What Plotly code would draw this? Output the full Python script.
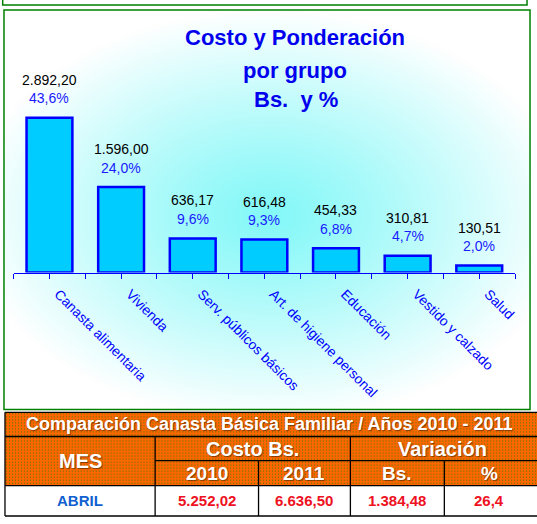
import base64
import struct
import zlib

import numpy as np
import plotly.graph_objects as go

# ---------------- data ----------------
categories = [
    "Canasta alimentaria",
    "Vivienda",
    "Serv. públicos básicos",
    "Art. de higiene personal",
    "Educación",
    "Vestido y calzado",
    "Salud",
]
costs = [2892.20, 1596.00, 636.17, 616.48, 454.33, 310.81, 130.51]
weights = [43.6, 24.0, 9.6, 9.3, 6.8, 4.7, 2.0]

title_lines = ["Costo y Ponderación", "por grupo", "Bs.\u00a0 y %"]

table_title = "Comparación Canasta Básica Familiar / Años 2010 - 2011"
table_month_header = "MES"
table_group_headers = ["Costo Bs.", "Variación"]
table_sub_headers = ["2010", "2011", "Bs.", "%"]
table_month = "ABRIL"
cost_2010 = 5252.02
cost_2011 = 6636.50
variation_bs = 1384.48
variation_pct = 26.4

# ---------------- helpers ----------------
W, H = 537, 524
FONT = "Arial, Liberation Sans, sans-serif"


def fx(x):
    return x / W


def fy(y):
    return 1 - y / H


def es_num(v, dec=2):
    s = f"{v:,.{dec}f}"
    return s.replace(",", "#").replace(".", ",").replace("#", ".")


def png_uri(arr):
    h, w, _ = arr.shape
    raw = b"".join(b"\x00" + arr[i].tobytes() for i in range(h))

    def chunk(t, d):
        c = struct.pack(">I", len(d)) + t + d
        return c + struct.pack(">I", zlib.crc32(t + d) & 0xFFFFFFFF)

    png = (
        b"\x89PNG\r\n\x1a\n"
        + chunk(b"IHDR", struct.pack(">IIBBBBB", w, h, 8, 2, 0, 0, 0))
        + chunk(b"IDAT", zlib.compress(raw, 9))
        + chunk(b"IEND", b"")
    )
    return "data:image/png;base64," + base64.b64encode(png).decode()


# chart box and radial gradient background
bx0, bx1, by0, by1 = 4, 532, 10, 409.5
gw, gh = int(bx1 - bx0), int(by1 - by0)
xs = bx0 + np.arange(gw) + 0.5
ys = by0 + np.arange(gh) + 0.5
X, Y = np.meshgrid(xs, ys)
t = np.sqrt(((X - 270) / 300.0) ** 2 + ((Y - 215) / 205.0) ** 2)
f = np.clip(t, 0, 1) ** 1.15
center = np.array([132, 248, 248], dtype=float)
edge = np.array([255, 255, 255], dtype=float)
grad = center[None, None, :] + (edge - center)[None, None, :] * f[:, :, None]
grad_img = png_uri(np.clip(grad, 0, 255).astype(np.uint8))

# table geometry (pixels); table runs past the right edge of the page
tc = [5, 155.7, 259.5, 351.7, 446, 540]
tr = [412.3, 436.5, 460.7, 485.7, 516]
text_right = 536

# dotted orange pattern for table header
tw, th = int(round(tc[-1] - tc[0])), int(round(tr[3] - tr[0]))
pat = np.zeros((th, tw, 3), dtype=np.uint8)
pat[:, :] = (255, 102, 0)
pat[1::3, 1::3] = (64, 128, 0)
pat_img = png_uri(pat)

# ---------------- figure ----------------
fig = go.Figure()

fig.add_trace(
    go.Bar(
        x=list(range(len(categories))),
        y=costs,
        width=0.64,
        marker=dict(color="#00CCFF", line=dict(color="#0000FF", width=2.5)),
        hoverinfo="skip",
        showlegend=False,
    )
)

annotations = []
for i, (c, w) in enumerate(zip(costs, weights)):
    annotations.append(
        dict(
            x=i, y=c, xref="x", yref="y", text=es_num(c), showarrow=False,
            yanchor="middle", yshift=38,
            font=dict(family=FONT, size=14, color="#000000"),
        )
    )
    annotations.append(
        dict(
            x=i, y=c, xref="x", yref="y", text=es_num(w, 1) + "%", showarrow=False,
            yanchor="middle", yshift=19.5,
            font=dict(family=FONT, size=14, color="#1A1AFF"),
        )
    )

for line, (cx, cy) in zip(title_lines, [(296, 37.7), (296, 70), (297, 100)]):
    annotations.append(
        dict(
            x=fx(cx), y=fy(cy), xref="paper", yref="paper", text=line,
            showarrow=False, xanchor="center", yanchor="middle",
            font=dict(family=FONT, size=22, color="#0000EE", weight="bold"),
        )
    )

# table texts
white_bold = dict(family=FONT, color="#FFFFFF", weight="bold",
                  shadow="1px 1px 1px rgba(90,40,0,0.7)")


def cell_text(text, x0, x1, y0, y1, font):
    annotations.append(
        dict(
            x=fx((x0 + x1) / 2), y=fy((y0 + y1) / 2), xref="paper", yref="paper",
            text=text, showarrow=False, xanchor="center", yanchor="middle",
            font=font,
        )
    )


cols_txt = tc[:-1] + [text_right]
cell_text(table_title, cols_txt[0], cols_txt[-1], tr[0], tr[1], dict(white_bold, size=18))
cell_text(table_month_header, cols_txt[0], cols_txt[1], tr[1], tr[3], dict(white_bold, size=20))
cell_text(table_group_headers[0], cols_txt[1], cols_txt[3], tr[1], tr[2], dict(white_bold, size=20))
cell_text(table_group_headers[1], cols_txt[3], cols_txt[5], tr[1], tr[2], dict(white_bold, size=20))
for k, s in enumerate(table_sub_headers):
    cell_text(s, cols_txt[k + 1], cols_txt[k + 2], tr[2], tr[3], dict(white_bold, size=19))

row_vals = [es_num(cost_2010), es_num(cost_2011), es_num(variation_bs), es_num(variation_pct, 1)]
cell_text(table_month, cols_txt[0], cols_txt[1], tr[3], tr[4],
          dict(family=FONT, size=15, color="#1060D0", weight="bold"))
for k, s in enumerate(row_vals):
    cell_text(s, cols_txt[k + 1], cols_txt[k + 2], tr[3], tr[4],
              dict(family=FONT, size=15, color="#EE1122", weight="bold"))

shapes = []
green = "#008000"
# top partial box
shapes.append(dict(type="rect", xref="paper", yref="paper", x0=fx(2.7), x1=fx(529),
                   y0=fy(5.1), y1=fy(-3), line=dict(color=green, width=1.5),
                   fillcolor="rgba(0,0,0,0)", layer="above"))
# chart box border
shapes.append(dict(type="rect", xref="paper", yref="paper", x0=fx(bx0), x1=fx(bx1),
                   y0=fy(by1), y1=fy(by0), line=dict(color=green, width=1.5),
                   fillcolor="rgba(0,0,0,0)", layer="below"))
# data row white
shapes.append(dict(type="rect", xref="paper", yref="paper", x0=fx(tc[0]), x1=fx(tc[-1]),
                   y0=fy(tr[4]), y1=fy(tr[3]), line=dict(width=0),
                   fillcolor="#FFFFFF", layer="below"))


def hline(x0, x1, y):
    shapes.append(dict(type="line", xref="paper", yref="paper", x0=fx(x0), x1=fx(x1),
                       y0=fy(y), y1=fy(y), line=dict(color="#000000", width=1.3),
                       layer="above"))


def vline(x, y0, y1):
    shapes.append(dict(type="line", xref="paper", yref="paper", x0=fx(x), x1=fx(x),
                       y0=fy(y0), y1=fy(y1), line=dict(color="#000000", width=1.3),
                       layer="above"))


hline(tc[0], tc[-1], tr[0])
hline(tc[0], tc[-1], tr[1])
hline(tc[1], tc[-1], tr[2])
hline(tc[0], tc[-1], tr[3])
hline(tc[0], tc[-1], tr[4])
vline(tc[0], tr[0], tr[4])
vline(tc[1], tr[1], tr[4])
vline(tc[3], tr[1], tr[4])
vline(tc[2], tr[2], tr[4])
vline(tc[4], tr[2], tr[4])

images = [
    dict(source=grad_img, xref="paper", yref="paper", x=fx(bx0), y=fy(by0),
         sizex=fx(bx1) - fx(bx0), sizey=fy(by0) - fy(by1), sizing="stretch",
         xanchor="left", yanchor="top", layer="below"),
    dict(source=pat_img, xref="paper", yref="paper", x=fx(tc[0]), y=fy(tr[0]),
         sizex=fx(tc[-1]) - fx(tc[0]), sizey=fy(tr[0]) - fy(tr[3]), sizing="stretch",
         xanchor="left", yanchor="top", layer="below"),
]

fig.update_layout(
    width=W,
    height=H,
    margin=dict(l=0, r=0, t=0, b=0),
    paper_bgcolor="#FFFFFF",
    plot_bgcolor="rgba(0,0,0,0)",
    showlegend=False,
    annotations=annotations,
    shapes=shapes,
    images=images,
    xaxis=dict(
        domain=[fx(13.7), fx(517)],
        range=[-0.5, len(categories) - 0.5],
        tickmode="array",
        tickvals=list(range(len(categories))),
        ticktext=categories,
        tickangle=45,
        ticks="outside",
        ticklen=5,
        tickcolor="#0000FF",
        tickwidth=1,
        showline=True,
        linecolor="#0000FF",
        linewidth=1.2,
        showgrid=False,
        zeroline=False,
        ticklabelshift=9,
        ticklabelstandoff=2,
        tickfont=dict(family=FONT, size=13.8, color="#0000FF"),
        minor=dict(
            tickmode="array",
            tickvals=[i - 0.5 for i in range(len(categories) + 1)],
            ticks="outside",
            ticklen=5,
            tickcolor="#0000FF",
            tickwidth=1,
            showgrid=False,
        ),
        fixedrange=True,
    ),
    yaxis=dict(
        domain=[fy(272.5), fy(30)],
        range=[0, 4530],
        visible=False,
        fixedrange=True,
    ),
)

fig.write_html(
    "out.html",
    config={"displayModeBar": False},
    post_script="document.body.style.margin='0';document.body.style.overflow='hidden';",
)
